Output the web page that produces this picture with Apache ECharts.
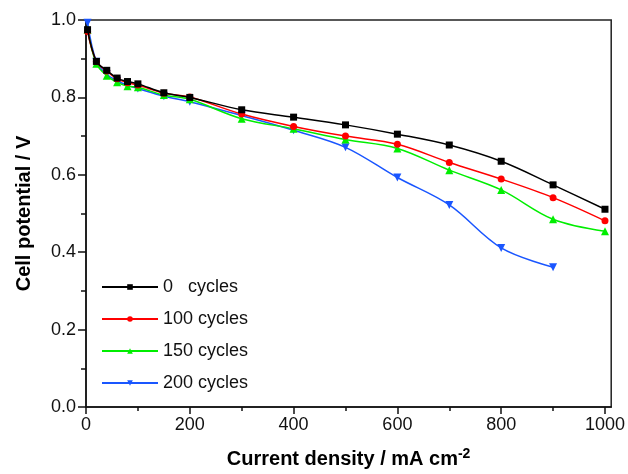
<!DOCTYPE html>
<html>
<head>
<meta charset="utf-8">
<script src="https://cdn.jsdelivr.net/npm/echarts@6/dist/echarts.min.js"></script>
<style>html,body{margin:0;padding:0;background:#fff;}#c{width:628px;height:474px;}</style>
</head>
<body>
<div id="c"></div>
<script>
const seriesNames = ['0   cycles', '100 cycles', '150 cycles', '200 cycles'];
const currentDensity = [3, 20, 40, 60, 80, 100, 150, 200, 300, 400, 500, 600, 700, 800, 900, 1000];
const cycles0   = [0.975, 0.893, 0.870, 0.850, 0.841, 0.835, 0.812, 0.800, 0.768, 0.749, 0.729, 0.705, 0.677, 0.635, 0.574, 0.511];
const cycles100 = [0.970, 0.893, 0.868, 0.848, 0.838, 0.832, 0.811, 0.801, 0.757, 0.725, 0.700, 0.679, 0.632, 0.589, 0.541, 0.481];
const cycles150 = [0.975, 0.887, 0.856, 0.839, 0.829, 0.826, 0.806, 0.795, 0.745, 0.719, 0.691, 0.668, 0.612, 0.561, 0.485, 0.454];
const cycles200 = [0.993, 0.892, 0.860, 0.843, 0.831, 0.823, 0.803, 0.789, 0.753, 0.715, 0.671, 0.593, 0.522, 0.411, 0.361];
const xMajorTicks = [0, 200, 400, 600, 800, 1000];
const xMinorTicks = [100, 300, 500, 700, 900];

const colors = ['#000000', '#ff0000', '#00ee00', '#1a56ff'];
const symbols = ['rect', 'circle', 'triangle', 'triangle'];
const rotations = [0, 0, 0, 180];
const allValues = [cycles0, cycles100, cycles150, cycles200];

const font = 'Liberation Sans, Arial, sans-serif';
const chart = echarts.init(document.getElementById('c'));

const series = allValues.map((vals, i) => ({
  name: seriesNames[i],
  type: 'line',
  smooth: 0.35,
  data: vals.map((v, j) => [currentDensity[j], v]),
  symbol: symbols[i],
  symbolRotate: rotations[i],
  symbolSize: i >= 2 ? 8 : 7,
  lineStyle: { color: colors[i], width: 1.5 },
  itemStyle: { color: colors[i] },
  z: 10 - i
}));

chart.setOption({
  animation: false,
  textStyle: { fontFamily: font },
  grid: { left: 86, right: 15, top: 20, bottom: 62, show: true, borderColor: '#222', borderWidth: 1.5, backgroundColor: 'transparent' },
  legend: {
    orient: 'vertical', left: 101, top: 278, padding: 0,
    itemWidth: 56, itemHeight: 7, itemGap: 14,
    textStyle: { fontSize: 18, color: '#111', fontFamily: font },
    data: seriesNames
  },
  xAxis: [{
    type: 'value', min: 0, max: 1012, position: 'bottom',
    name: 'Current density / mA cm{sup|-2}', nameLocation: 'middle', nameGap: 40,
    nameTextStyle: { fontSize: 20, fontWeight: 'bold', color: '#000', fontFamily: font,
      rich: { sup: { fontSize: 14, fontWeight: 'bold', color: '#000', fontFamily: font, verticalAlign: 'top', padding: [0, 0, 10, 0] } } },
    axisLine: { show: true, lineStyle: { color: '#111', width: 1.5 } },
    axisTick: { show: true, customValues: xMajorTicks, length: 7, lineStyle: { color: '#111', width: 1.5 } },
    axisLabel: { customValues: xMajorTicks, fontSize: 18, color: '#111', margin: 9, fontFamily: font, formatter: v => String(v) },
    splitLine: { show: false }
  }, {
    type: 'value', min: 0, max: 1012, position: 'bottom', gridIndex: 0,
    axisLine: { show: false },
    axisTick: { show: true, customValues: xMinorTicks, length: 4, lineStyle: { color: '#111', width: 1.5 } },
    axisLabel: { show: false },
    splitLine: { show: false }
  }],
  yAxis: {
    type: 'value', min: 0, max: 1, interval: 0.2,
    name: 'Cell potential / V', nameLocation: 'middle', nameGap: 52,
    nameTextStyle: { fontSize: 20, fontWeight: 'bold', color: '#000', fontFamily: font },
    axisLine: { show: true, lineStyle: { color: '#111', width: 1.5 } },
    axisTick: { show: true, length: 8, lineStyle: { color: '#111', width: 1.5 } },
    minorTick: { show: true, splitNumber: 2, length: 5, lineStyle: { color: '#111', width: 1.5 } },
    axisLabel: { fontSize: 18, color: '#111', margin: 10, fontFamily: font, formatter: v => v.toFixed(1) },
    splitLine: { show: false }
  },
  series: series
});
</script>
</body>
</html>
